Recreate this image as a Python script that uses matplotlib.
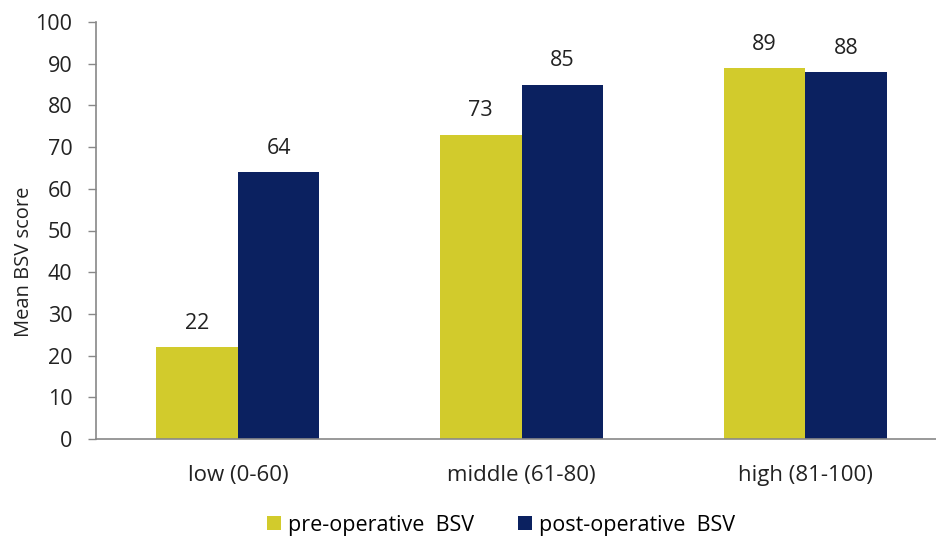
import matplotlib.pyplot as plt
import numpy as np

categories = ['low (0-60)', 'middle (61-80)', 'high (81-100)']
pre_op = [22, 73, 89]
post_op = [64, 85, 88]
y_ticks = [0, 10, 20, 30, 40, 50, 60, 70, 80, 90, 100]

plt.rcParams['font.family'] = ['Open Sans', 'DejaVu Sans']

fig = plt.figure(figsize=(9.36, 5.44), dpi=100)
ax = fig.add_axes([96 / 936, 1 - 439 / 544, 851 / 936, (439 - 22) / 544])

x = np.arange(len(categories))
w = 0.287
b1 = ax.bar(x - w / 2, pre_op, w, color='#D2CB2C', label='pre-operative  BSV')
b2 = ax.bar(x + w / 2, post_op, w, color='#0B2160', label='post-operative  BSV')

for bars in (b1, b2):
    for r in bars:
        ax.text(r.get_x() + r.get_width() / 2, r.get_height() + 3.2, str(int(r.get_height())),
                ha='center', va='bottom', fontsize=15.5, color='#222222')

ax.set_xlim(-0.5, 2.5)
ax.set_ylim(0, 100)
ax.set_yticks(y_ticks)
ax.set_xticks(x)
ax.set_xticklabels(categories)
ax.tick_params(axis='x', length=0, pad=19, labelsize=16, labelcolor='#222222')
ax.tick_params(axis='y', length=6, width=1, color='#888888', labelsize=15.5, labelcolor='#222222', pad=11)

# y label sits a bit lower than the axis middle in the original
fig.text(24 / 936, 1 - 262 / 544, 'Mean BSV score', rotation=90, ha='center', va='center',
         fontsize=14.5, color='#222222')

for s in ['top', 'right']:
    ax.spines[s].set_visible(False)
for s in ['left', 'bottom']:
    ax.spines[s].set_color('#888888')
    ax.spines[s].set_linewidth(1.2)

fig.legend(loc='center', bbox_to_anchor=(501 / 936, 1 - 525 / 544), ncol=2, frameon=False,
           fontsize=15.5, handlelength=0.65, handleheight=0.65, handletextpad=0.35, columnspacing=2.0)

plt.savefig('out.png', dpi=100)
